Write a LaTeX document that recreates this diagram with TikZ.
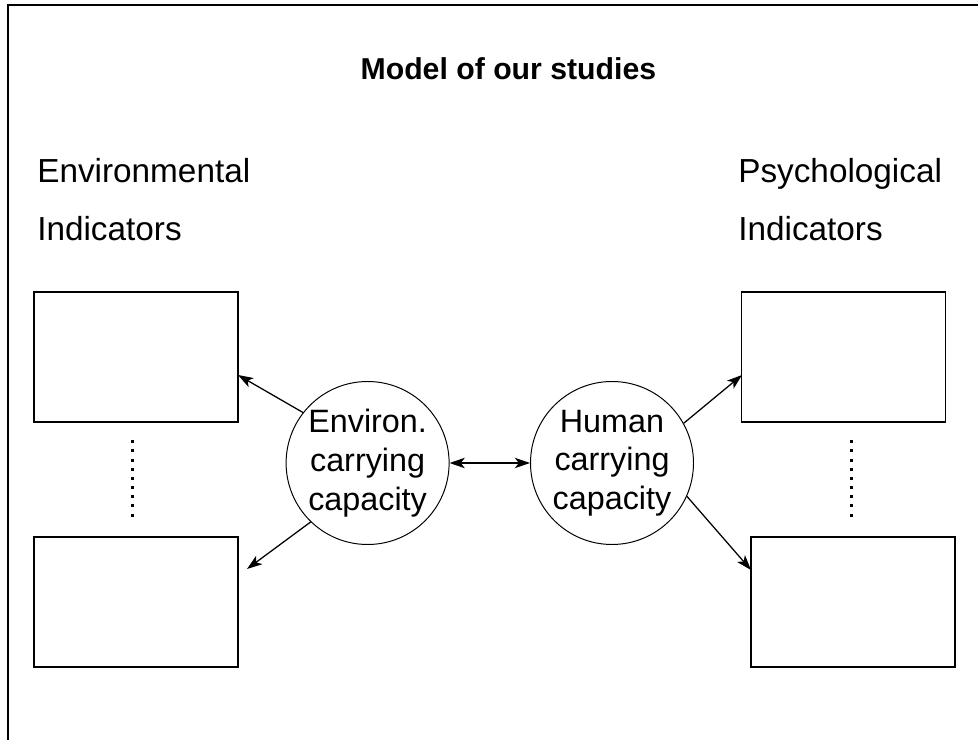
\documentclass[tikz,border=0pt]{standalone}
\usepackage{fontspec}
\setmainfont{Liberation Sans}
\usetikzlibrary{arrows.meta}

\begin{document}
\begin{tikzpicture}[
    indbox/.style={draw,line width=0.9pt,minimum width=5.1cm,minimum height=3.25cm,inner sep=0pt},
    capcircle/.style={draw,circle,line width=0.7pt,minimum size=4.075cm,inner sep=0pt,align=center,
      font=\fontsize{23}{27.5}\selectfont},
    heading/.style={anchor=base west,inner sep=0pt,font=\fontsize{23.7}{28}\selectfont},
    link/.style={line width=0.9pt,-{Stealth[length=0.38cm,width=0.26cm,inset=0.1cm]}}
  ]
        \useasboundingbox (0,0) rectangle (24.45,18.5);

        % Frame
        \draw[line width=1.6pt] (0.2,0) -- (0.2,18.375) -- (24.45,18.375);

        % Title
        \node[anchor=base,inner sep=0pt,font=\fontsize{21.5}{26}\selectfont\bfseries] (title) at (12.71,16.5) {Model of our studies};

        % Column headings
        \node[heading] (envhead) at (0.925,13.94) {Environmental};
        \node[heading] (envind) at (0.925,12.48) {Indicators};
        \node[heading] (psyhead) at (18.45,13.94) {Psychological};
        \node[heading] (psyind) at (18.45,12.48) {Indicators};

        % Indicator boxes
        \node[indbox] (envtop) at (3.4,9.575) {};
        \node[indbox] (envbot) at (3.4,3.45) {};
        \node[indbox] (psytop) at (21.09,9.575) {};
        \node[indbox] (psybot) at (21.325,3.45) {};

        % Dots between the boxes
        \foreach \i in {0,...,8} {
          \fill (3.287,5.587+\i*0.229) rectangle ++(0.075,0.075);
          \fill (21.262,5.587+\i*0.229) rectangle ++(0.075,0.075);
        }

        % Carrying capacities
        \node[capcircle] (envcap) at (9.19,6.925) {Environ.\\carrying\\capacity};
        \node[capcircle] (humcap) at (15.3,6.925) {Human\\carrying\\capacity};

        % Arrow ends at the boxes
        \coordinate (envtopin) at (5.95,9.125);
        \coordinate (envbotin) at (6.175,4.275);
        \coordinate (psytopin) at (18.55,9.125);
        \coordinate (psybotin) at (18.775,4.25);

        % Arrows
        \draw[link] (envcap.142) -- (envtopin);
        \draw[link] (envcap.226) -- (envbotin);
        \draw[link] (humcap.29) -- (psytopin);
        \draw[link] (humcap.-24) -- (psybotin);
        \draw[link,{Stealth[length=0.38cm,width=0.26cm,inset=0.1cm]}-{Stealth[length=0.38cm,width=0.26cm,inset=0.1cm]}] (envcap) -- (humcap);
      \end{tikzpicture}
\end{document}
